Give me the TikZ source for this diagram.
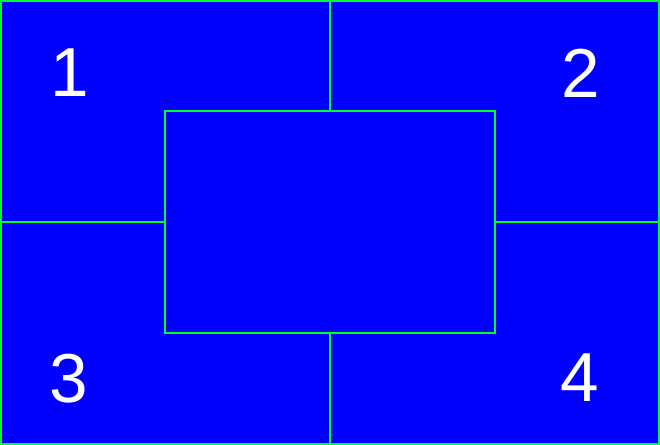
\documentclass[tikz,border=0pt]{standalone}
\usepackage{fontspec}
\setmainfont{Liberation Sans}
\usetikzlibrary{positioning}
\definecolor{panel}{RGB}{0, 0, 255}
\definecolor{edge}{RGB}{0, 255, 40}

\begin{document}
\begin{tikzpicture}[x=0.75pt, y=-0.75pt,
    frame/.style={edge, line width=1.5pt},
    zone/.style={text=white, font=\fontsize{52}{52}\selectfont, inner sep=0pt}]
        % 背景
        \useasboundingbox (0,0) rectangle (660,445);
        \fill[panel] (0,0) rectangle (660,445);
        \draw[frame] (1,1) rectangle (659,444);

        % 中间矩形
        \node[frame, draw, inner sep=0pt, minimum width=247.5pt, minimum height=165.75pt] (mid) at (330,222) {};

        % 分隔线端点
        \coordinate (top) at (330,0);
        \coordinate (bottom) at (330,445);
        \coordinate (left) at (0,222);
        \coordinate (right) at (660,222);

        \draw[frame] (top) -- (mid.north);
        \draw[frame] (mid.south) -- (bottom);
        \draw[frame] (left) -- (mid.west);
        \draw[frame] (mid.east) -- (right);

        % 编号
        \foreach \x/\y/\n in {70/73/1, 581/73/2, 69/379/3, 580/378/4} {
            \node[zone] (q\n) at (\x,\y) {\n};
        }

    \end{tikzpicture}
\end{document}
